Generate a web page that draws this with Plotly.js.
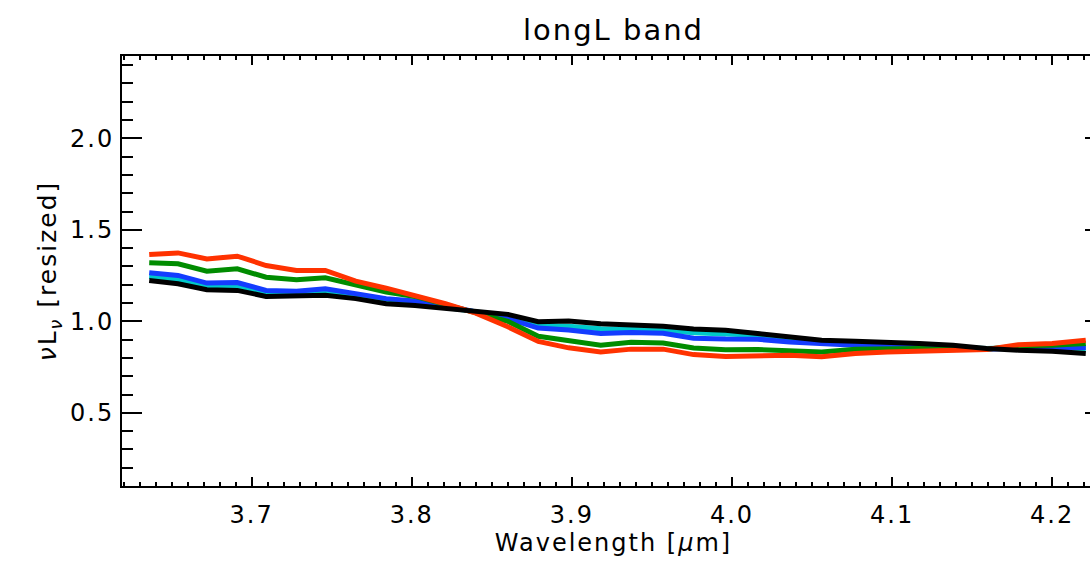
<!DOCTYPE html>
<html>
<head>
<meta charset="utf-8">
<script src="https://cdn.plot.ly/plotly-3.0.1.min.js"></script>
<style>
html,body{margin:0;padding:0;overflow:hidden;background:#fff;width:1090px;height:570px;}
#chart{width:1110px;height:570px;}
#chart text{letter-spacing:2px;}
</style>
</head>
<body>
<div id="chart"></div>
<script>
const wavelength = [3.636, 3.654, 3.672, 3.691, 3.709, 3.728, 3.746, 3.765, 3.784, 3.802, 3.821, 3.840, 3.860, 3.879, 3.898, 3.918, 3.937, 3.957, 3.976, 3.996, 4.016, 4.036, 4.056, 4.077, 4.097, 4.117, 4.138, 4.159, 4.179, 4.200, 4.221];
const redSeries = [1.365, 1.374, 1.341, 1.356, 1.305, 1.278, 1.278, 1.220, 1.181, 1.142, 1.096, 1.045, 0.970, 0.890, 0.855, 0.833, 0.848, 0.848, 0.818, 0.808, 0.811, 0.815, 0.806, 0.824, 0.833, 0.838, 0.842, 0.846, 0.872, 0.879, 0.897];
const greenSeries = [1.320, 1.314, 1.274, 1.287, 1.241, 1.227, 1.238, 1.196, 1.160, 1.136, 1.093, 1.051, 1.000, 0.918, 0.895, 0.869, 0.885, 0.882, 0.854, 0.844, 0.846, 0.842, 0.833, 0.847, 0.851, 0.851, 0.846, 0.847, 0.866, 0.869, 0.879];
const blueSeries = [1.265, 1.251, 1.209, 1.212, 1.169, 1.165, 1.178, 1.151, 1.124, 1.111, 1.087, 1.051, 1.015, 0.963, 0.953, 0.933, 0.939, 0.935, 0.908, 0.903, 0.902, 0.887, 0.875, 0.869, 0.866, 0.860, 0.855, 0.847, 0.855, 0.857, 0.857];
const cyanSeries = [1.245, 1.227, 1.191, 1.192, 1.151, 1.151, 1.160, 1.136, 1.111, 1.100, 1.078, 1.056, 1.027, 0.978, 0.973, 0.960, 0.957, 0.953, 0.938, 0.928, 0.924, 0.906, 0.887, 0.879, 0.873, 0.869, 0.860, 0.851, 0.857, 0.857, 0.851];
const blackSeries = [1.223, 1.205, 1.173, 1.169, 1.136, 1.136, 1.142, 1.124, 1.096, 1.087, 1.069, 1.051, 1.038, 0.998, 1.002, 0.987, 0.980, 0.973, 0.958, 0.951, 0.933, 0.915, 0.897, 0.891, 0.887, 0.879, 0.869, 0.851, 0.842, 0.837, 0.824];
const xTickVals = [3.7, 3.8, 3.9, 4.0, 4.1, 4.2];
const yTickVals = [0.5, 1.0, 1.5, 2.0];

const series = [
  {y: cyanSeries, color: 'rgb(0,200,200)'},
  {y: blueSeries, color: 'rgb(20,60,255)'},
  {y: greenSeries, color: 'rgb(0,140,0)'},
  {y: redSeries, color: 'rgb(255,50,0)'},
  {y: blackSeries, color: 'rgb(0,0,0)'}
];
const traces = series.map(s => ({
  x: wavelength, y: s.y, type: 'scatter', mode: 'lines',
  line: {color: s.color, width: 5}, showlegend: false, hoverinfo: 'skip'
}));

const font = {family: '"DejaVu Sans", sans-serif', size: 24, color: '#000'};
const layout = {
  width: 1110, height: 570,
  margin: {l: 122, r: 5, t: 56, b: 84},
  paper_bgcolor: '#fff', plot_bgcolor: '#fff',
  font: font,
  title: {text: 'longL band', x: 0.5, xref: 'paper', xanchor: 'center', y: 0.947, yref: 'container', yanchor: 'middle', font: {family: font.family, size: 29, color: '#000'}},
  xaxis: {
    range: [3.619, 4.233], showgrid: false, zeroline: false,
    showline: true, linecolor: '#000', linewidth: 2, mirror: 'ticks',
    ticks: 'inside', ticklen: 9, tickwidth: 2, tickcolor: '#000',
    tickvals: xTickVals, tickformat: '.1f', ticklabelstandoff: 6,
    minor: {dtick: 0.01, tick0: 3.6, ticks: 'inside', ticklen: 4, tickwidth: 2, tickcolor: '#000', showgrid: false},
    title: {text: 'Wavelength [<i>μ</i>m]', font: font, standoff: 6}
  },
  yaxis: {
    range: [0.1, 2.45], showgrid: false, zeroline: false,
    showline: true, linecolor: '#000', linewidth: 2, mirror: 'ticks',
    ticks: 'inside', ticklen: 20, tickwidth: 2, tickcolor: '#000',
    tickvals: yTickVals, tickformat: '.1f', ticklabelstandoff: 1,
    minor: {dtick: 0.1, tick0: 0.1, ticks: 'inside', ticklen: 11, tickwidth: 2, tickcolor: '#000', showgrid: false},
    title: {text: '<i>ν</i>L<sub><i>ν</i></sub> [resized]', font: {family: font.family, size: 25, color: '#000'}, standoff: 12}
  }
};
Plotly.newPlot('chart', traces, layout, {staticPlot: true, displayModeBar: false});
</script>
</body>
</html>
